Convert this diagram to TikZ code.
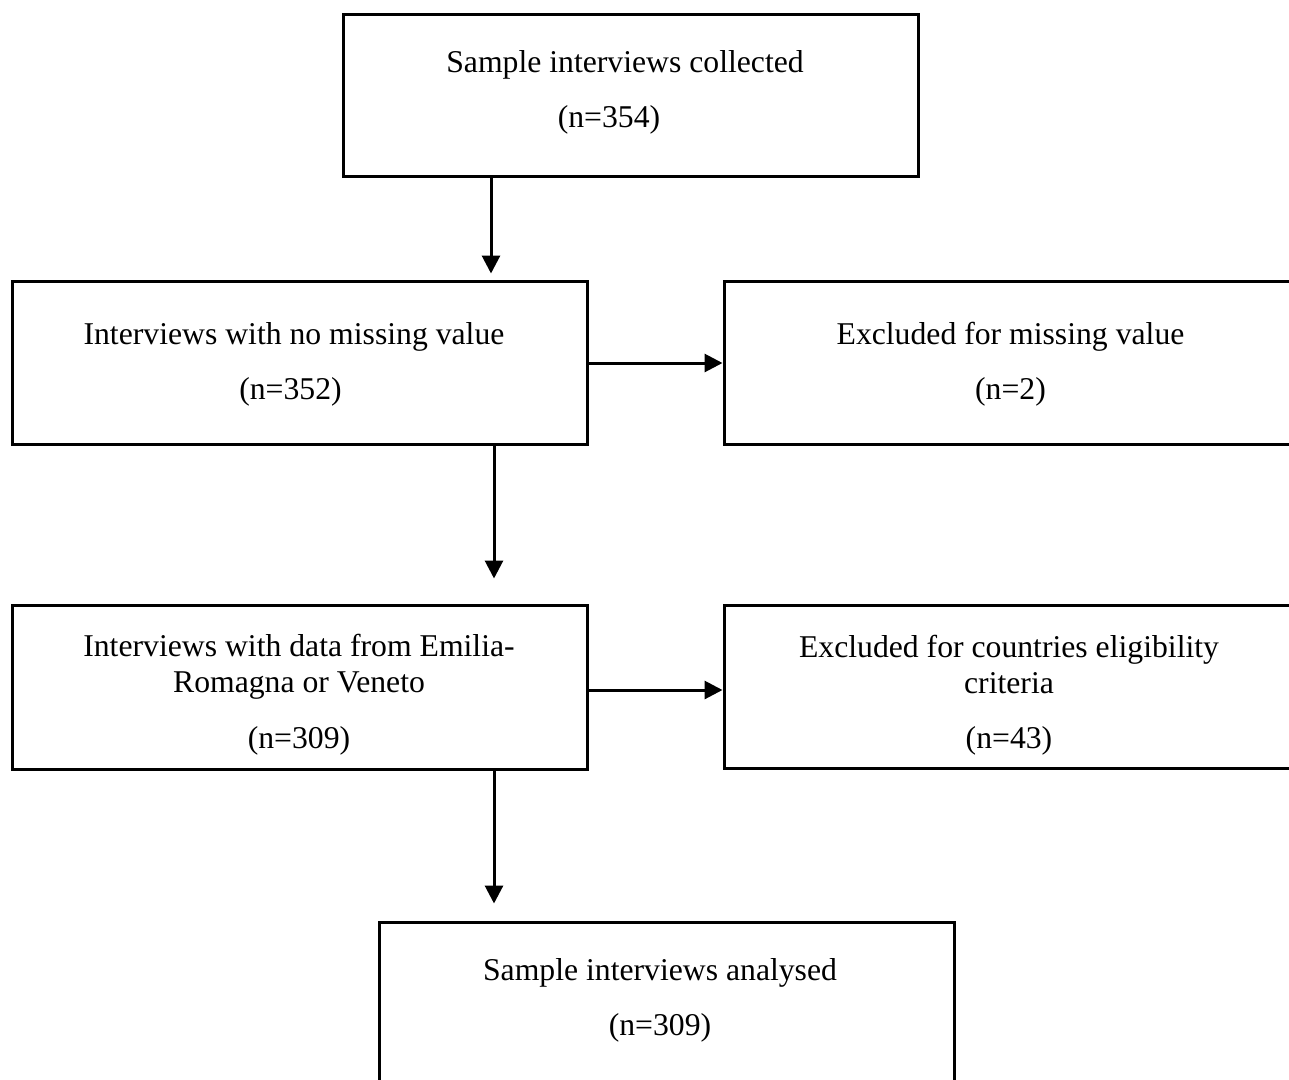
\documentclass[tikz,border=0pt]{standalone}
\usepackage{fontspec}
\setmainfont{Liberation Serif}
\usetikzlibrary{arrows.meta}
\begin{document}
\begin{tikzpicture}[x=1pt,y=-1pt,
  box/.style={draw=black,line width=3pt,rectangle,minimum width=575pt,inner sep=0pt,anchor=center},
  txt/.style={align=center,font=\fontsize{31.7}{36}\selectfont,inner sep=0pt,anchor=center},
  arr/.style={line width=3pt,-{Triangle[length=18pt,width=18pt]}}]
\useasboundingbox (0,0) rectangle (1289,1079);
\clip (0,0) rectangle (1289,1079);
% boxes
\node[box,minimum height=162pt] (b1) at (631,95) {};
\node[box,minimum height=163pt] (b2) at (299.5,362.5) {};
\node[box,minimum height=163pt] (b3) at (1011.5,362.5) {};
\node[box,minimum height=164pt] (b4) at (299.5,687) {};
\node[box,minimum height=163pt] (b5) at (1011.5,686.5) {};
\node[box,minimum height=163pt] (b6) at (666.5,1003.5) {};
% texts
\node[txt] (t1) at (625,92.5) {Sample interviews collected\\[19pt](n=354)\kern32pt};
\node[txt] (t2) at (294,364) {Interviews with no missing value\\[19pt](n=352)\kern7pt};
\node[txt] (t3) at (1010.5,364) {Excluded for missing value\\[19pt](n=2)};
\node[txt] (t4) at (299,695) {Interviews with data from Emilia-\\Romagna or Veneto\\[20pt](n=309)};
\node[txt] (t5) at (1009,695.5) {Excluded for countries eligibility\\criteria\\[19pt](n=43)};
\node[txt] (t6) at (660,1000) {Sample interviews analysed\\[19pt](n=309)};
% connectors
\draw[arr,shorten >=6pt] (b1.south -| 491,0) -- (b2.north -| 491,0);
\draw[arr,shorten >=25pt] (b2.south -| 494,0) -- (b4.north -| 494,0);
\draw[arr,shorten >=17pt] (b4.south -| 494,0) -- (b6.north -| 494,0);
\draw[arr] (b2.east |- 0,363) -- (b3.west |- 0,363);
\draw[arr] (b4.east |- 0,690) -- (b5.west |- 0,690);
\end{tikzpicture}
\end{document}
